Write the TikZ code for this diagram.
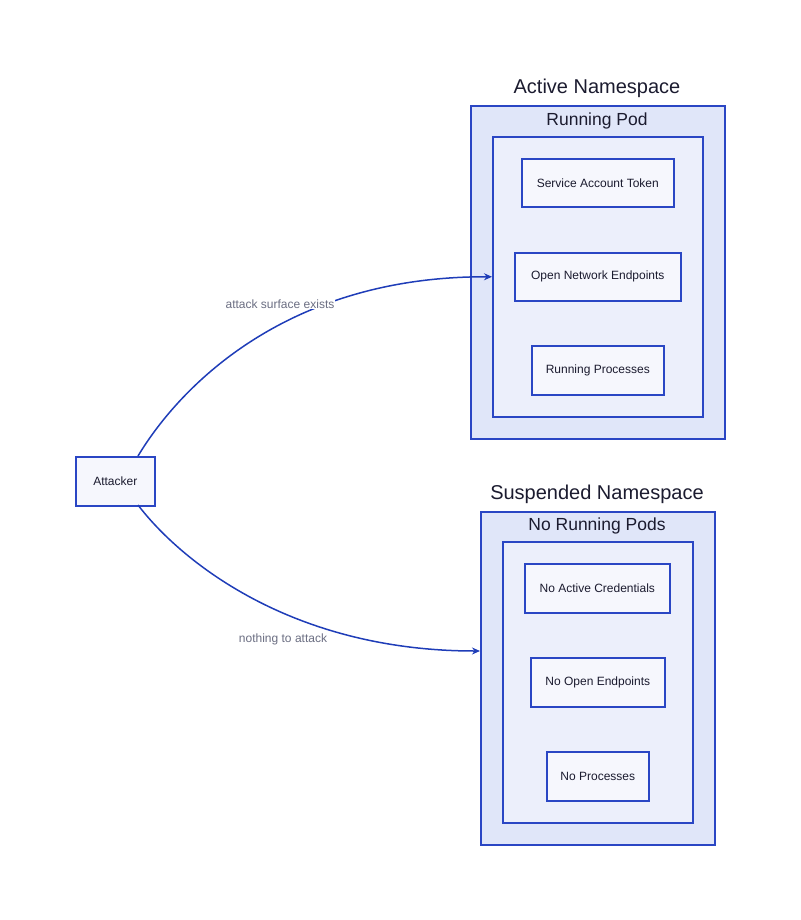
\documentclass[tikz,border=0pt]{standalone}
\usepackage{fontspec}
\setmainfont{Liberation Sans}
\usetikzlibrary{arrows.meta}
\definecolor{strokeb}{HTML}{2A46C4}
\definecolor{edgeb}{HTML}{1F3DB8}
\definecolor{outerf}{HTML}{E0E6F9}
\definecolor{innerf}{HTML}{ECEFFB}
\definecolor{nodef}{HTML}{F6F7FD}
\definecolor{txt}{HTML}{1B1B2F}
\definecolor{lbl}{HTML}{6B6E82}
\tikzset{
  box/.style={draw=strokeb, line width=1.6pt, inner sep=0pt, anchor=north west, text=txt},
  outerbox/.style={box, fill=outerf},
  innerbox/.style={box, fill=innerf},
  leaf/.style={box, fill=nodef, font=\fontsize{12}{14}\selectfont},
  ttl/.style={text=txt, font=\fontsize{20}{24}\selectfont, inner sep=0pt},
  subttl/.style={text=txt, font=\fontsize{17.5}{21}\selectfont, inner sep=0pt},
  conn/.style={draw=edgeb, line width=1.5pt, -{Stealth[length=8pt,width=7pt]}},
  elabel/.style={fill=white, text=lbl, font=\fontsize{12}{14}\selectfont, inner sep=1pt}
}
\begin{document}
\begin{tikzpicture}[x=1pt,y=-1pt]
\useasboundingbox (0,0) rectangle (800,920);
% Active namespace
\node[outerbox, minimum width=254pt, minimum height=333pt] (act) at (470,105) {};
\node[ttl] (actt) at (597,88) {Active Namespace};
\node[innerbox, minimum width=210pt, minimum height=280pt] (pod) at (492,136) {};
\node[subttl] (podt) at (597,121) {Running Pod};
\node[leaf, minimum width=152pt, minimum height=48pt] (sat) at (521,158) {};
\node[text=txt, font=\fontsize{12}{14}\selectfont] (satt) at (sat.center) {Service Account Token};
\node[leaf, minimum width=166pt, minimum height=48pt] (one) at (514,252) {};
\node[text=txt, font=\fontsize{12}{14}\selectfont] (onet) at (one.center) {Open Network Endpoints};
\node[leaf, minimum width=132pt, minimum height=49pt] (rp) at (531,345) {};
\node[text=txt, font=\fontsize{12}{14}\selectfont] (rpt) at (rp.center) {Running Processes};
% Suspended namespace
\node[outerbox, minimum width=234pt, minimum height=333pt] (susp) at (480,511) {};
\node[ttl] (suspt) at (597,494) {Suspended Namespace};
\node[innerbox, minimum width=190pt, minimum height=281pt] (nrp) at (502,541) {};
\node[subttl] (nrpt) at (597,526) {No Running Pods};
\node[leaf, minimum width=145pt, minimum height=49pt] (nac) at (524,563) {};
\node[text=txt, font=\fontsize{12}{14}\selectfont] (nact) at (nac.center) {No Active Credentials};
\node[leaf, minimum width=134pt, minimum height=49pt] (noe) at (530,657) {};
\node[text=txt, font=\fontsize{12}{14}\selectfont] (noet) at (noe.center) {No Open Endpoints};
\node[leaf, minimum width=102pt, minimum height=49pt] (np) at (546,751) {};
\node[text=txt, font=\fontsize{12}{14}\selectfont] (npt) at (np.center) {No Processes};
% Attacker
\node[leaf, minimum width=79pt, minimum height=49pt] (att) at (75,456) {};
\node[text=txt, font=\fontsize{12}{14}\selectfont] (attt) at (att.center) {Attacker};
\coordinate (atop) at (138,456);
\coordinate (abot) at (138,505);
\coordinate (sin) at (480,651);
% connectors
\draw[conn] (atop) .. controls (182,383) and (290,276) .. (pod.west);
\node[elabel] (l1) at (280,304) {attack surface exists};
\draw[conn] (abot) .. controls (180,560) and (290,651) .. (sin);
\node[elabel] (l2) at (283,639) {nothing to attack};
\end{tikzpicture}
\end{document}
